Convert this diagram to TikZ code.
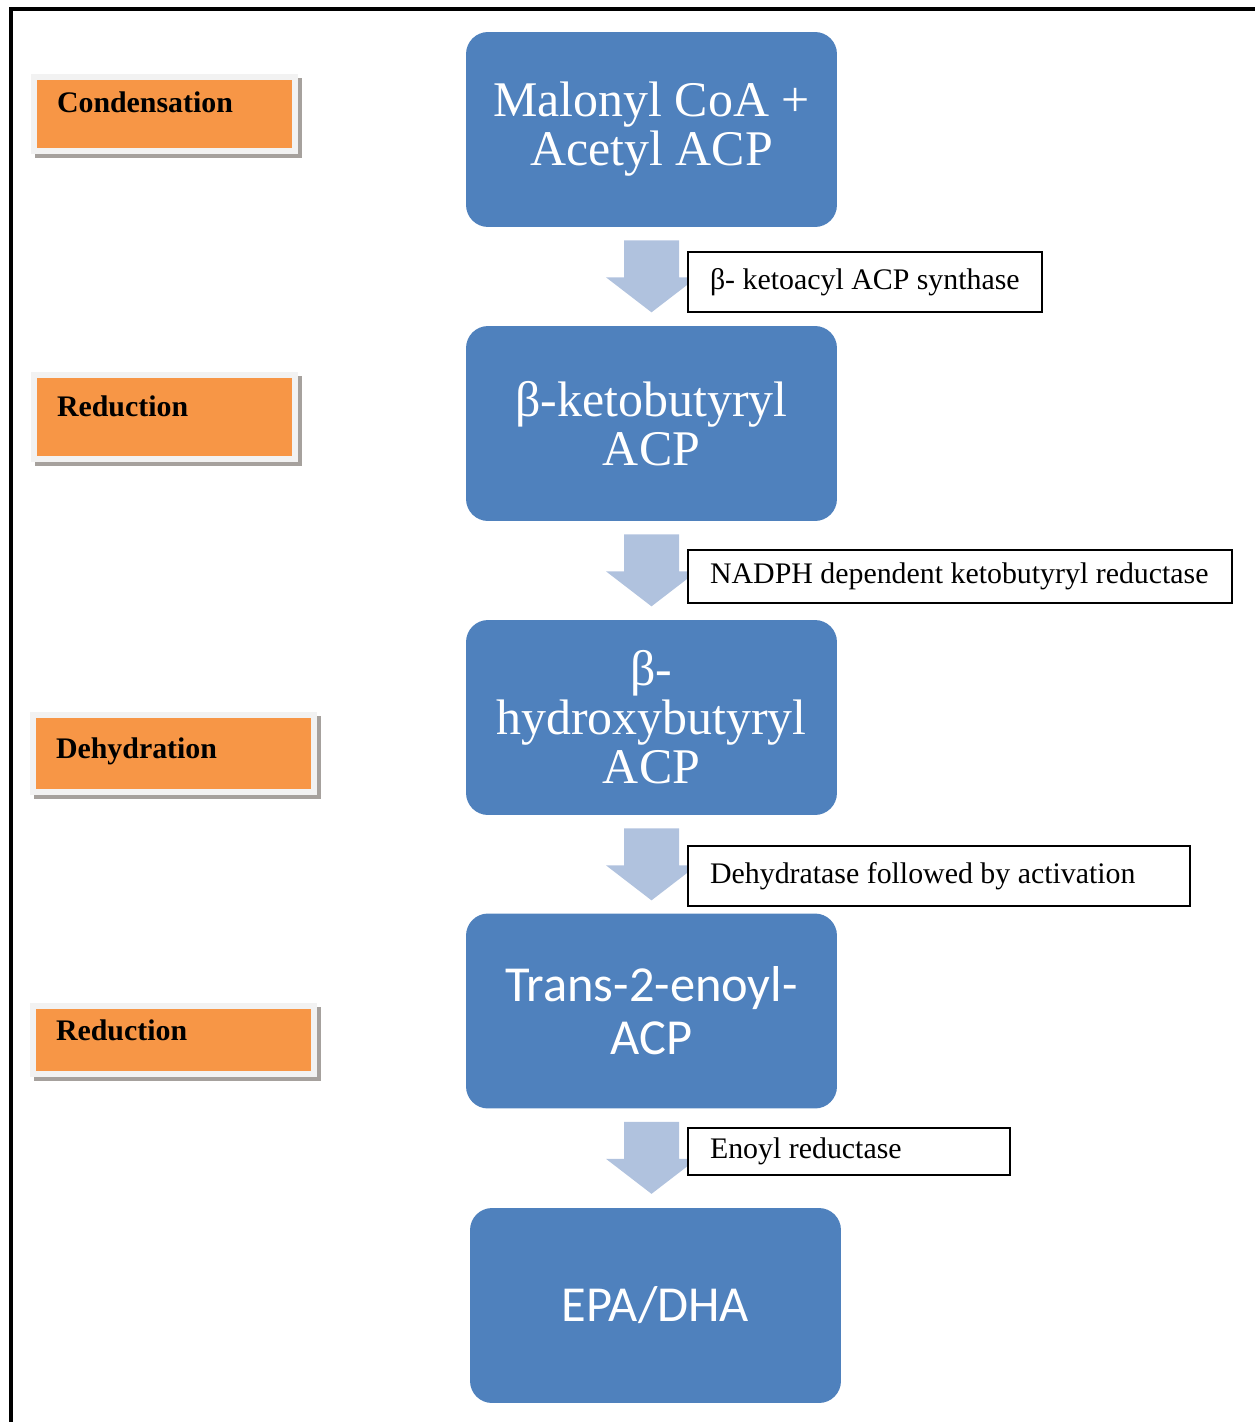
\documentclass[tikz,border=0pt]{standalone}
\usepackage{fontspec}
\setmainfont{Liberation Serif}
\newfontfamily\carlito{Carlito}
\usetikzlibrary{calc}
\definecolor{stepblue}{HTML}{4F81BD}
\definecolor{arrowblue}{HTML}{B0C2DE}
\definecolor{phaseorange}{HTML}{F79646}
\definecolor{phaseframe}{HTML}{F2F2F2}
\definecolor{phaseshadow}{HTML}{A6A19D}
\newcommand\enzlabel[2]{\makebox[#1][l]{\hspace{0.44cm}#2}}
\newcommand\phaselabel[3]{\makebox[#1][l]{\hspace{0.46cm}\raisebox{#2}{#3}}}
\begin{document}
\begin{tikzpicture}[x=0.02cm,y=-0.02cm,
  stepbox/.style={fill=stepblue, rounded corners=0.44cm, minimum width=7.42cm, minimum height=3.9cm,
    inner sep=0pt, align=center, text=white, font=\fontsize{28.4}{27.9}\selectfont},
  stepsans/.style={stepbox, font=\carlito\fontsize{28.7}{30}\selectfont},
  enzbox/.style={draw=black, line width=1.1pt, fill=white, inner sep=0pt,
    font=\fontsize{17}{19}\selectfont, text height=12pt, text depth=3.5pt},
  phasebox/.style={fill=phaseorange, draw=phaseframe, line width=0.12cm, inner sep=0pt,
    font=\bfseries\fontsize{17}{19}\selectfont, text height=12pt, text depth=3.5pt,
    preaction={fill=phaseshadow, draw=phaseshadow, transform canvas={xshift=0.08cm,yshift=-0.08cm}}},
  flowarrow/.style={fill=arrowblue}
]
\useasboundingbox (0,0) rectangle (1254,1422);
\draw[line width=1.9pt] (11,1430) -- (11,9) -- (1260,9);

% main steps
\node[stepbox] (b1) at (651.5,129.5) {\raisebox{-0.06cm}{Malonyl CoA +}\\\raisebox{-0.06cm}{Acetyl ACP}};
\node[stepbox] (b2) at (651.5,423.5) {β-ketobutyryl\\ACP};
\node[stepbox] (b3) at (651.5,717.5) {β-\\hydroxybutyryl\\ACP};
\node[stepsans] (b4) at (651.5,1011) {Trans-2-enoyl-\\ACP};
\node[stepsans] (b5) at (655.5,1305.5) {EPA/DHA};

% block arrows
\foreach \a/\b in {b1/b2,b2/b3,b3/b4,b4/b5}{
  \fill[flowarrow] ($(\a.south)+(-27.5,13)$) -- ($(\a.south)+(27.5,13)$) -- ($(\a.south)+(27.5,50)$)
    -- ($(\a.south)+(45.5,50)$) -- ($(\a.south)+(0,85)$) -- ($(\a.south)+(-45.5,50)$)
    -- ($(\a.south)+(-27.5,50)$) -- cycle;
}

% enzyme labels
\node[enzbox, minimum width=7.08cm, minimum height=1.2cm] (e1) at (865,282) {\enzlabel{7.08cm}{β- ketoacyl ACP synthase}};
\node[enzbox, minimum width=10.88cm, minimum height=1.06cm] (e2) at (960,576.5) {\enzlabel{10.88cm}{NADPH dependent ketobutyryl reductase}};
\node[enzbox, minimum width=10.04cm, minimum height=1.2cm] (e3) at (939,876) {\enzlabel{10.04cm}{Dehydratase followed by activation}};
\node[enzbox, minimum width=6.44cm, minimum height=0.94cm] (e4) at (849,1151.5) {\enzlabel{6.44cm}{Enoyl reductase}};

% phase labels
\node[phasebox, minimum width=5.22cm, minimum height=1.48cm] (p1) at (164.5,114) {\phaselabel{5.22cm}{0.18cm}{Condensation}};
\node[phasebox, minimum width=5.22cm, minimum height=1.68cm] (p2) at (164.5,417) {\phaselabel{5.22cm}{0.16cm}{Reduction}};
\node[phasebox, minimum width=5.62cm, minimum height=1.54cm] (p3) at (173.5,753.5) {\phaselabel{5.62cm}{0.05cm}{Dehydration}};
\node[phasebox, minimum width=5.62cm, minimum height=1.36cm] (p4) at (173.5,1040) {\phaselabel{5.62cm}{0.14cm}{Reduction}};
\end{tikzpicture}
\end{document}
